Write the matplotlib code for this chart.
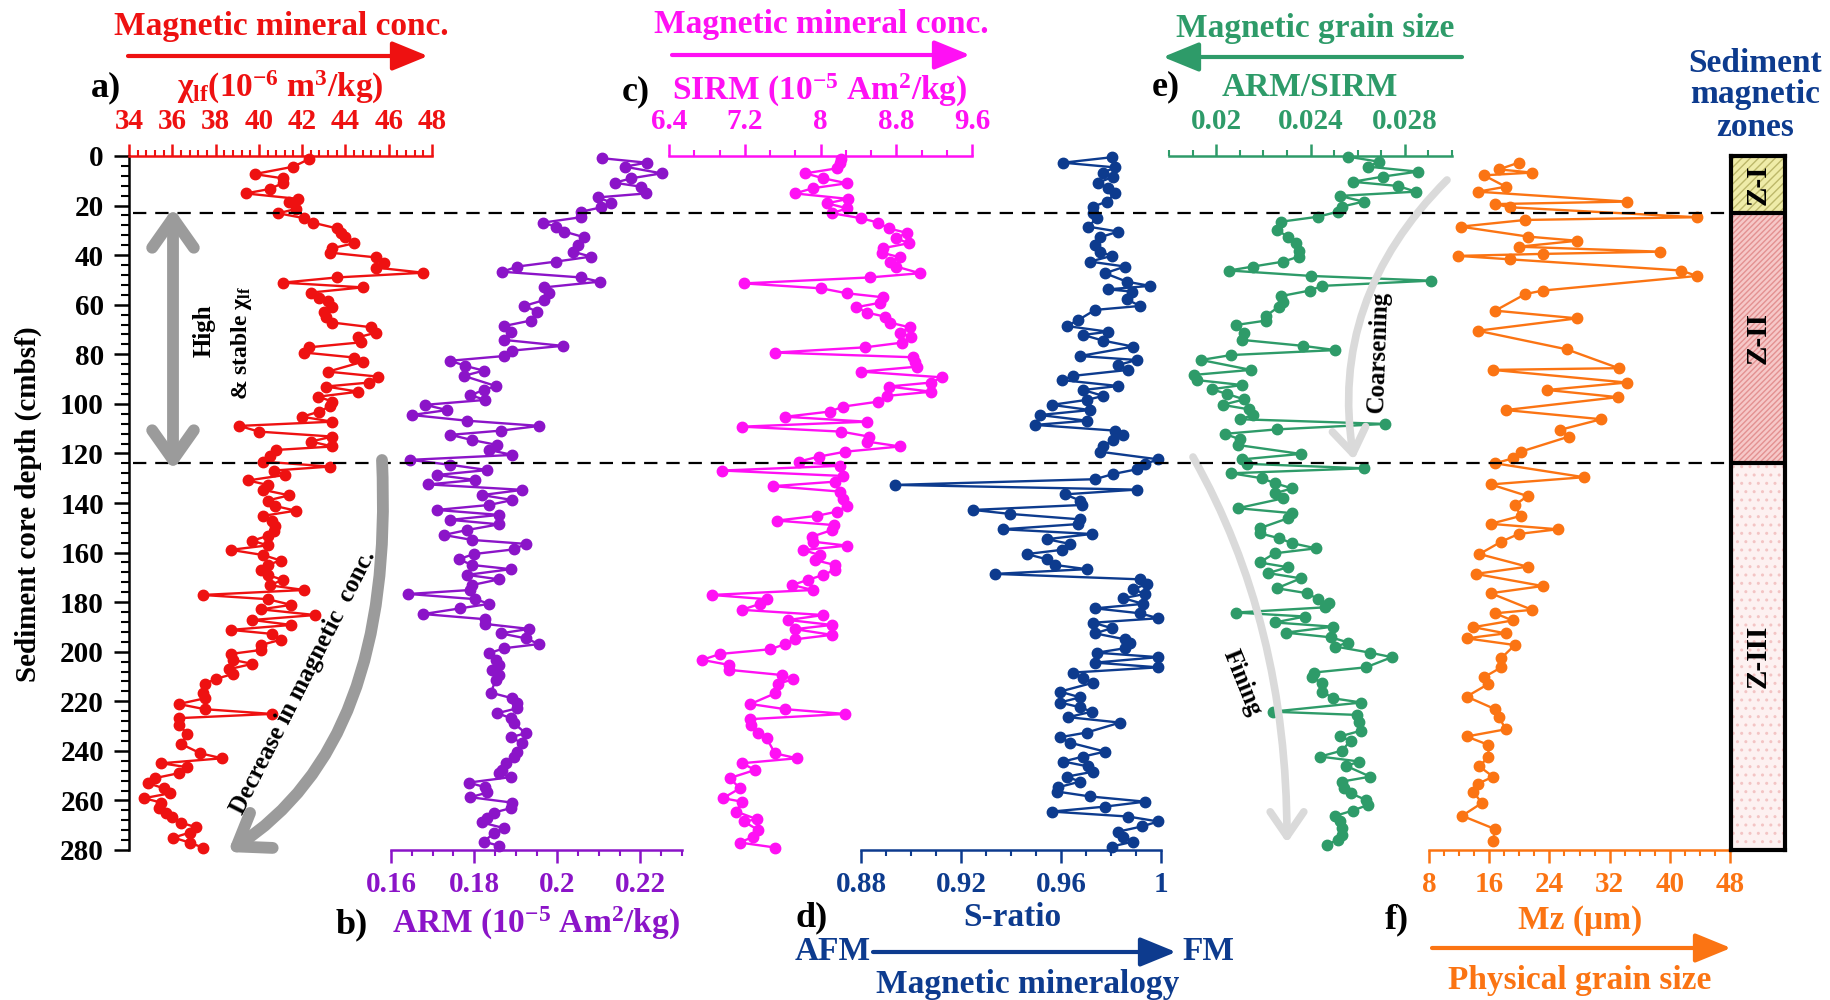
import matplotlib
matplotlib.use("Agg")
import matplotlib.pyplot as plt
from matplotlib.ticker import FixedLocator, FixedFormatter, MultipleLocator
from matplotlib.patches import FancyArrowPatch
from matplotlib.path import Path
import matplotlib.transforms as mtrans

# ---------------- data ----------------
chi_depth = [1.3, 4.3, 7.3, 9.0, 11.0, 13.3, 15.1, 17.3, 18.7, 21.4, 23.1, 25.1, 26.9, 29.2, 31.2, 32.8,
             35.2, 37.2, 39.0, 40.9, 43.3, 45.0, 47.1, 49.0, 51.1, 53.0, 55.1, 57.1, 58.4, 60.8, 62.8,
             64.8, 67.2, 69.1, 71.3, 73.1, 75.2, 77.2, 79.3, 81.3, 83.0, 87.0, 89.0, 91.4, 93.0, 95.1,
             97.1, 99.1, 100.9, 103.1, 105.2, 107.2, 108.9, 111.2, 113.2, 115.2, 117.2, 118.6, 121.0,
             123.3, 125.3, 126.9, 128.7, 130.9, 132.7, 134.7, 136.9, 139.0, 141.2, 143.1, 145.2, 147.1,
             149.3, 151.1, 153.3, 155.2, 157.1, 158.9, 161.0, 163.2, 165.0, 167.0, 169.0, 171.0, 173.2,
             175.1, 177.1, 178.8, 181.1, 182.9, 185.2, 187.2, 189.2, 191.2, 192.8, 195.2, 197.3, 199.3,
             200.9, 203.3, 204.9, 207.1, 209.0, 211.0, 213.0, 216.8, 218.8, 221.1, 223.2, 225.1, 226.8,
             229.5, 233.2, 237.2, 241.0, 243.0, 245.0, 246.6, 249.0, 251.0, 253.1, 255.1, 257.1, 259.1,
             260.9, 263.1, 265.2, 266.8, 269.0, 270.8, 273.0, 275.0, 277.0, 279.0]
chi_val = [42.3, 41.6, 39.8, 41.1, 41.1, 40.5, 39.4, 41.8, 41.4, 41.7, 40.9, 42.1, 42.5, 43.6, 43.8, 44.0,
           44.4, 43.4, 43.3, 45.4, 45.8, 45.4, 47.6, 43.6, 41.1, 44.8, 42.4, 42.8, 43.2, 43.4, 43.0,
           43.1, 43.4, 45.2, 45.4, 44.6, 44.7, 42.3, 42.1, 44.4, 44.8, 43.2, 45.5, 45.1, 43.1, 44.6,
           42.75, 43.4, 43.3, 42.8, 42.0, 43.4, 39.1, 40.0, 43.4, 42.4, 43.4, 40.8, 40.5,
           40.2, 43.3, 40.7, 41.2, 39.5, 40.4, 40.2, 41.4, 40.4, 40.75, 41.7, 40.2, 40.6,
           40.75, 40.7, 40.4, 39.7, 40.4, 38.7, 40.2, 41.0, 40.4, 40.1, 40.4, 41.1, 40.5,
           42.1, 37.4, 40.4, 41.5, 40.1, 42.6, 39.7, 41.5, 38.7, 40.6, 41.0, 40.1, 40.1,
           38.7, 38.8, 39.7, 38.6, 38.8, 38.0, 37.5, 37.4, 37.5, 36.3, 37.5, 40.6, 36.3,
           36.3, 36.7, 36.4, 37.3, 38.3, 35.5, 36.7, 36.3, 35.2, 34.9, 35.6, 35.9, 34.7,
           35.5, 35.4, 35.7, 36.0, 36.4, 37.1, 36.8, 36.05, 36.8, 37.4]

arm_depth = [0.9, 2.7, 4.3, 7.0, 9.0, 10.8, 12.4, 15.1, 16.7, 18.8, 20.7, 22.5, 24.7, 26.9, 28.5, 30.5,
             32.8, 35.9, 38.6, 40.6, 42.6, 44.6, 46.7, 49.0, 50.7, 53.0, 55.4, 58.1, 60.5, 62.8, 66.4,
             68.6, 70.9, 74.2, 76.6, 78.5, 80.7, 82.6, 84.7, 86.6, 88.7, 92.8, 94.4, 96.5, 98.4, 100.4,
             102.5, 104.5, 106.8, 108.9, 110.8, 112.5, 114.6, 116.6, 118.6, 120.6, 122.6, 124.6, 126.7,
             128.7, 130.7, 132.5, 134.7, 136.8, 138.8, 140.8, 142.8, 144.8, 146.8, 148.6, 150.9, 152.9,
             154.9, 156.5, 158.7, 160.6, 162.7, 165.0, 166.7, 169.0, 170.8, 173.1, 175.1, 176.7, 178.8,
             180.7, 182.5, 184.8, 186.9, 188.8, 190.8, 192.6, 194.6, 196.9, 198.6, 200.6, 203.3, 205.3,
             207.3, 209.4, 211.4, 216.5, 218.8, 220.8, 222.8, 224.8, 226.8, 228.9, 232.9, 234.5, 236.9,
             240.3, 242.3, 244.7, 247.7, 249.0, 250.6, 252.8, 254.7, 256.8, 258.7, 260.9, 263.1, 264.9,
             267.2, 268.9, 271.2, 273.2, 276.6, 278.3]
arm_val = [0.2108, 0.2215, 0.2162, 0.2251, 0.2178, 0.2138, 0.2202, 0.2214, 0.2098, 0.2130, 0.2106, 0.2057,
           0.2057, 0.1965, 0.1997, 0.2017, 0.2065, 0.2049, 0.2037, 0.2081, 0.1997, 0.1904, 0.1868, 0.2057,
           0.2102, 0.1969, 0.1981, 0.1969, 0.1920, 0.1952, 0.1936, 0.1872, 0.1888, 0.1872, 0.2013, 0.1892,
           0.1872, 0.1743, 0.1779, 0.1823, 0.1775, 0.1852, 0.1823, 0.1791, 0.1827, 0.1682, 0.1735, 0.1650,
           0.1783, 0.1957, 0.1864, 0.1743, 0.1795, 0.1856, 0.1836, 0.1892, 0.1646, 0.1743, 0.1832, 0.1710,
           0.1803, 0.1690, 0.1916, 0.1819, 0.1892, 0.1836, 0.1710, 0.1860, 0.1743, 0.1860, 0.1783, 0.1727,
           0.1795, 0.1924, 0.1896, 0.1799, 0.1763, 0.1795, 0.1888, 0.1783, 0.1860, 0.1795, 0.1791, 0.1642,
           0.1803, 0.1836, 0.1767, 0.1678, 0.1827, 0.1827, 0.1932, 0.1864, 0.1924, 0.1956, 0.1872, 0.1836,
           0.1852, 0.1860, 0.1844, 0.1860, 0.1852, 0.1840, 0.1892, 0.1904, 0.1904, 0.1856, 0.1888, 0.1896,
           0.1924, 0.1888, 0.1916, 0.1904, 0.1896, 0.1876, 0.1868, 0.1860, 0.1888, 0.1787, 0.1827, 0.1832,
           0.1791, 0.1892, 0.1888, 0.1848, 0.1832, 0.1819, 0.1872, 0.1848, 0.1823, 0.1860]

sirm_depth = [1.3, 2.7, 5.0, 7.0, 9.0, 11.0, 13.0, 15.1, 17.3, 19.1, 21.1, 23.1, 25.1, 26.9, 29.2, 31.0,
              33.2, 35.2, 37.2, 39.0, 40.9, 42.6, 44.6, 47.3, 49.0, 51.4, 53.4, 55.4, 57.0, 59.2, 61.0,
              63.2, 64.8, 67.2, 69.1, 71.3, 73.1, 75.3, 77.2, 79.3, 81.2, 83.0, 85.0, 87.0, 89.3, 91.4,
              93.0, 95.1, 96.8, 99.1, 101.1, 103.1, 105.2, 107.2, 109.2, 111.2, 113.2, 115.2, 117.2,
              119.3, 121.3, 123.3, 125.0, 126.9, 129.1, 131.4, 133.2, 135.4, 138.5, 141.2, 143.5, 145.2,
              147.1, 148.9, 150.9, 153.6, 155.6, 157.2, 159.0, 161.0, 163.0, 165.0, 167.0, 169.0, 171.0,
              173.1, 175.1, 177.1, 178.8, 180.7, 183.1, 185.2, 187.2, 189.2, 190.9, 193.2, 195.0, 196.9,
              199.0, 200.9, 203.3, 205.3, 207.3, 209.4, 211.1, 213.0, 216.8, 221.1, 223.2, 225.1, 227.2,
              229.5, 232.9, 234.9, 241.0, 243.0, 245.0, 247.7, 251.0, 255.1, 259.1, 260.5, 264.5, 267.6,
              268.5, 271.9, 274.6, 277.0, 279.0]
sirm_val = [8.22, 8.21, 8.17, 7.84, 8.03, 8.28, 7.92, 7.73, 8.29, 8.07, 8.28, 8.12, 8.43, 8.61, 8.72, 8.91,
            8.80, 8.93, 8.66, 8.65, 8.84, 8.73, 8.80, 9.05, 8.52, 7.19, 8.01, 8.28, 8.66, 8.63, 8.38,
            8.49, 8.68, 8.73, 8.94, 8.84, 8.96, 8.86, 8.47, 7.52, 8.98, 9.00, 9.02, 8.43, 9.28, 9.17,
            8.72, 9.17, 8.70, 8.61, 8.24, 8.10, 7.63, 8.49, 7.17, 8.22, 8.51, 8.49, 8.84,
            8.26, 7.98, 7.77, 8.21, 6.96, 8.24, 8.15, 7.50, 8.21, 8.24, 8.28, 8.17, 7.96,
            7.54, 8.14, 8.12, 7.91, 7.92, 8.28, 7.82, 7.99, 7.94, 8.15, 8.15, 8.03, 7.87,
            7.70, 7.92, 6.85, 7.43, 7.36, 7.17, 8.03, 7.66, 8.12, 7.73, 8.12, 7.73, 7.63,
            7.47, 6.94, 6.75, 7.03, 7.03, 7.59, 7.71, 7.55, 7.52, 7.26, 7.63, 8.26, 7.26,
            7.27, 7.34, 7.43, 7.52, 7.75, 7.17, 7.31, 7.04, 7.15, 6.97, 7.17, 7.11, 7.33,
            7.19, 7.34, 7.29, 7.15, 7.52]

sr_depth = [0.5, 2.7, 4.6, 6.7, 8.3, 10.8, 13.0, 15.1, 18.4, 20.4, 23.1, 25.1, 28.5, 30.5, 32.8, 35.9,
            38.6, 40.3, 42.6, 44.6, 47.3, 50.7, 52.4, 53.8, 54.7, 57.8, 60.5, 62.1, 66.2, 68.6, 70.9,
            72.2, 74.5, 76.9, 80.7, 82.3, 84.3, 86.3, 88.7, 90.4, 92.8, 94.4, 96.8, 98.4, 100.4, 102.5,
            104.5, 106.8, 108.5, 110.8, 112.5, 114.6, 117.0, 119.3, 122.4, 124.2, 126.4, 128.3, 130.4,
            132.7, 134.6, 136.5, 139.0, 140.8, 142.8, 144.4, 146.6, 148.5, 150.6, 152.5, 154.6, 156.5,
            158.9, 160.6, 162.7, 165.0, 166.7, 168.6, 170.8, 172.7, 174.8, 176.7, 178.4, 180.7, 182.5,
            184.5, 186.5, 188.3, 190.5, 192.6, 195.0, 196.6, 198.6, 200.4, 202.2, 204.4, 206.3, 208.4,
            210.7, 212.5, 216.1, 218.4, 220.5, 222.4, 224.2, 226.4, 228.6, 232.6, 234.5, 236.7, 240.3,
            242.3, 244.3, 246.3, 248.4, 250.4, 252.4, 254.7, 256.4, 258.4, 260.5, 262.5, 264.5, 266.5,
            268.5, 270.5, 272.6, 274.8, 276.6, 278.6]
sr_val = [0.9803, 0.9609, 0.9816, 0.9769, 0.9809, 0.9749, 0.9789, 0.9816, 0.9783, 0.9729, 0.9729, 0.9743,
          0.9709, 0.9829, 0.9756, 0.9736, 0.9756, 0.9803, 0.9716, 0.9856, 0.9776, 0.9863, 0.9956, 0.9789,
          0.9883, 0.9863, 0.9916, 0.9736, 0.9669, 0.9623, 0.9789, 0.9689, 0.9769, 0.9889, 0.9676, 0.9903,
          0.9829, 0.9869, 0.9649, 0.9603, 0.9829, 0.9689, 0.9769, 0.9703, 0.9563, 0.9716, 0.9516, 0.9703,
          0.9496, 0.9816, 0.9849, 0.9809, 0.9769, 0.9756, 0.9989, 0.9936, 0.9903, 0.9809, 0.9736,
          0.8936, 0.9903, 0.9616, 0.9676, 0.9683, 0.9249, 0.9396, 0.9676, 0.9669, 0.9369, 0.9723, 0.9543,
          0.9636, 0.9603, 0.9463, 0.9543, 0.9576, 0.9703, 0.9336, 0.9916, 0.9943, 0.9889, 0.9936, 0.9849,
          0.9929, 0.9736, 0.9916, 0.9989, 0.9729, 0.9803, 0.9736, 0.9856, 0.9876, 0.9856, 0.9743, 0.9989,
          0.9736, 0.9989, 0.9649, 0.9689, 0.9729, 0.9596, 0.9676, 0.9596, 0.9676, 0.9723, 0.9629, 0.9836,
          0.9703, 0.9596, 0.9636, 0.9776, 0.9689, 0.9609, 0.9709, 0.9729, 0.9623, 0.9676, 0.9589, 0.9583,
          0.9716, 0.9936, 0.9776, 0.9563, 0.9869, 0.9989, 0.9923, 0.9829, 0.9849, 0.9889, 0.9803]

ratio_depth = [0.3, 2.3, 4.3, 6.3, 8.3, 10.4, 12.1, 14.4, 16.1, 18.4, 20.4, 22.5, 24.5, 26.5, 29.8, 32.5,
               35.0, 38.2, 40.6, 42.6, 44.6, 46.2, 48.4, 50.3, 52.4, 54.3, 56.5, 58.8, 60.8, 64.5, 66.4,
               68.2, 71.5, 74.2, 76.6, 78.3, 80.3, 82.3, 86.3, 88.3, 90.4, 92.4, 94.1, 96.0, 98.2, 100.4,
               102.2, 104.5, 106.2, 108.1, 110.3, 112.1, 114.3, 116.6, 120.2, 122.4, 124.2, 126.0, 128.0,
               130.0, 132.0, 134.1, 136.1, 138.1, 142.1, 144.1, 146.2, 150.2, 152.2, 154.2, 156.2, 158.3,
               160.3, 164.0, 165.9, 168.3, 170.4, 174.4, 176.4, 178.8, 180.5, 182.1, 184.2, 185.8, 188.2,
               189.9, 192.3, 194.2, 196.3, 197.9, 200.4, 202.2, 206.3, 208.4, 210.3, 212.5, 216.1, 218.8,
               220.5, 224.2, 225.5, 228.2, 231.8, 234.2, 235.9, 239.9, 242.3, 244.3, 246.1, 250.4, 252.4,
               255.1, 257.1, 259.8, 261.8, 264.1, 266.2, 268.5, 271.2, 273.9, 275.9, 277.9]
ratio_val = [0.02561, 0.02690, 0.02644, 0.02855, 0.02708, 0.02579, 0.02772, 0.02846, 0.02524, 0.02625,
             0.02534, 0.02515, 0.02432, 0.02276, 0.02257, 0.02303, 0.02340, 0.02350, 0.02350, 0.02285,
             0.02156, 0.02055, 0.02404, 0.02910, 0.02450, 0.02396, 0.02276, 0.02285, 0.02266, 0.02211,
             0.02211, 0.02083, 0.02119, 0.02110, 0.02368, 0.02506, 0.02064, 0.01936, 0.02147, 0.01908,
             0.01917, 0.02110, 0.01981, 0.02046, 0.02119, 0.02027, 0.02138, 0.02156, 0.02101, 0.02717,
             0.02257, 0.02036, 0.02101, 0.02092, 0.02359, 0.02110, 0.02129, 0.02625, 0.02064, 0.02193,
             0.02248, 0.02322, 0.02248, 0.02285, 0.02092, 0.02322, 0.02303, 0.02184, 0.02184, 0.02266,
             0.02322, 0.02423, 0.02248, 0.02184, 0.02303, 0.02221, 0.02359, 0.02257, 0.02386, 0.02432,
             0.02478, 0.02460, 0.02083, 0.02377, 0.02248, 0.02496, 0.02294, 0.02487, 0.02561, 0.02506,
             0.02653, 0.02745, 0.02635, 0.02414, 0.02405, 0.02450, 0.02450, 0.02496, 0.02616, 0.02239,
             0.02597, 0.02607, 0.02616, 0.02524, 0.02570, 0.02533, 0.02441, 0.02607, 0.02552, 0.02653,
             0.02533, 0.02542, 0.02570, 0.02635, 0.02644, 0.02579, 0.02506, 0.02524, 0.02533, 0.02533,
             0.02515, 0.02469]

mz_depth = [2.7, 5.4, 6.7, 7.8, 12.4, 14.4, 18.4, 19.4, 20.7, 24.7, 25.8, 28.5, 32.5, 34.2, 36.6, 38.6,
            39.5, 40.3, 41.7, 46.2, 48.4, 54.3, 55.7, 62.4, 65.5, 70.5, 78.0, 85.6, 86.3, 91.4, 94.4,
            97.3, 102.5, 106.2, 110.5, 113.2, 119.3, 122.0, 124.0, 129.6, 132.5, 137.2, 140.8, 145.2,
            148.4, 150.6, 152.5, 155.6, 160.6, 165.7, 168.6, 173.5, 176.4, 183.1, 184.5, 187.4, 190.1,
            192.6, 194.6, 197.3, 202.6, 206.3, 210.3, 213.0, 218.1, 223.2, 226.4, 231.3, 234.2, 237.6,
            242.3, 246.3, 250.4, 253.3, 256.4, 261.1, 266.2, 271.6, 276.2]
mz_val = [19.9, 17.3, 21.7, 15.3, 18.2, 14.5, 34.3, 16.8, 18.8, 43.6, 20.8, 12.2, 21.1, 27.7, 19.9, 38.7,
          23.1, 11.9, 18.8, 41.5, 43.6, 23.1, 20.8, 16.8, 27.7, 14.5, 26.3, 33.2, 16.5, 34.3, 23.7,
          33.1, 18.2, 30.9, 25.4, 26.6, 20.2, 19.1, 16.8, 28.6, 16.2, 21.1, 19.4, 20.2,
          16.2, 25.1, 19.9, 17.6, 14.7, 21.1, 14.2, 23.1, 16.2, 21.7, 16.8, 19.1, 13.9,
          18.2, 13.0, 19.4, 17.6, 17.6, 15.3, 15.9, 13.0, 16.8, 17.3, 18.2, 13.0, 15.9,
          15.9, 14.7, 16.5, 14.5, 13.9, 15.0, 12.4, 16.8, 16.5]

zone_bounds = [0, 23, 124, 280]
zone_names = ["Z-I", "Z-II", "Z-III"]

chi_ticks = [34, 36, 38, 40, 42, 44, 46, 48]
arm_ticks = [0.16, 0.18, 0.2, 0.22]
arm_labels = ["0.16", "0.18", "0.2", "0.22"]
sirm_ticks = [6.4, 7.2, 8.0, 8.8, 9.6]
sirm_labels = ["6.4", "7.2", "8", "8.8", "9.6"]
sr_ticks = [0.88, 0.92, 0.96, 1.0]
sr_labels = ["0.88", "0.92", "0.96", "1"]
ratio_ticks = [0.02, 0.024, 0.028]
ratio_labels = ["0.02", "0.024", "0.028"]
mz_ticks = [8, 16, 24, 32, 40, 48]
depth_ticks = [0, 20, 40, 60, 80, 100, 120, 140, 160, 180, 200, 220, 240, 260, 280]

# ---------------- style ----------------
RED = "#ee1111"
PURPLE = "#8b14c8"
MAGENTA = "#ff10f4"
NAVY = "#0d3b8e"
GREEN = "#2e9b69"
ORANGE = "#fb7413"
GRAY = "#9b9b9b"
LGRAY = "#dadada"

plt.rcParams["font.family"] = ["Liberation Serif", "DejaVu Serif"]
plt.rcParams["font.weight"] = "bold"
plt.rcParams["mathtext.fontset"] = "custom"
plt.rcParams["mathtext.rm"] = "Liberation Serif:bold"
plt.rcParams["mathtext.bf"] = "Liberation Serif:bold"
plt.rcParams["mathtext.it"] = "Liberation Serif:italic:bold"
plt.rcParams["hatch.linewidth"] = 1.0

W, H = 1830, 1000
TOP, BOT = 156, 850
fig = plt.figure(figsize=(18.3, 10), dpi=100)


def rect(x0, x1):
    return [x0 / W, 1 - BOT / H, (x1 - x0) / W, (BOT - TOP) / H]


TICK_FS = 21
HEAD_FS = 24


def panel(x0, x1, xlim, color, side, ticks, labels, minor):
    ax = fig.add_axes(rect(x0, x1))
    ax.set_facecolor("none")
    ax.set_xlim(*xlim)
    ax.set_ylim(280, 0)
    for s in ax.spines.values():
        s.set_visible(False)
    ax.spines[side].set_visible(True)
    ax.spines[side].set_color(color)
    ax.spines[side].set_linewidth(1.8)
    ax.xaxis.set_ticks_position(side)
    ax.xaxis.set_major_locator(FixedLocator(ticks))
    ax.xaxis.set_major_formatter(FixedFormatter(labels))
    ax.xaxis.set_minor_locator(MultipleLocator(minor))
    ax.tick_params(axis="x", which="major", length=9, width=1.8, color=color,
                   labelcolor=color, labelsize=TICK_FS, pad=6, direction="out")
    ax.tick_params(axis="x", which="minor", length=4.5, width=1.5, color=color, direction="out")
    ax.set_yticks([])
    return ax


def series(ax, vals, depths, color):
    ax.plot(vals, depths, "-o", color=color, lw=1.7, ms=7.5, clip_on=False, zorder=3)


ax_a = panel(129, 432, (34, 48), RED, "top", chi_ticks, [str(t) for t in chi_ticks], 0.4)
ax_a.spines["left"].set_visible(True)
ax_a.spines["left"].set_color("black")
ax_a.spines["left"].set_linewidth(1.8)
ax_a.yaxis.set_major_locator(FixedLocator(depth_ticks))
ax_a.yaxis.set_major_formatter(FixedFormatter([str(t) for t in depth_ticks]))
ax_a.yaxis.set_minor_locator(MultipleLocator(4))
ax_a.tick_params(axis="y", which="major", length=11, width=1.8, labelsize=TICK_FS, pad=7, left=True)
ax_a.tick_params(axis="y", which="minor", length=6, width=1.5, left=True)
series(ax_a, chi_val, chi_depth, RED)

ax_b = panel(391, 682, (0.16, 0.23), PURPLE, "bottom", arm_ticks, arm_labels, 0.005)
series(ax_b, arm_val, arm_depth, PURPLE)

ax_c = panel(669, 972, (6.4, 9.6), MAGENTA, "top", sirm_ticks, sirm_labels, 0.8 / 3)
series(ax_c, sirm_val, sirm_depth, MAGENTA)

ax_d = panel(861, 1161, (0.88, 1.0), NAVY, "bottom", sr_ticks, sr_labels, 0.01)
series(ax_d, sr_val, sr_depth, NAVY)

ax_e = panel(1169, 1452, (0.018, 0.030), GREEN, "top", ratio_ticks, ratio_labels, 0.001)
series(ax_e, ratio_val, ratio_depth, GREEN)

ax_f = panel(1429, 1730, (8, 48), ORANGE, "bottom", mz_ticks, [str(t) for t in mz_ticks], 2)
series(ax_f, mz_val, mz_depth, ORANGE)

# zone column
ax_z = fig.add_axes(rect(1731, 1785))
ax_z.set_xlim(0, 1)
ax_z.set_ylim(280, 0)
ax_z.set_xticks([])
ax_z.set_yticks([])
zone_face = ["#efeca8", "#f6c8c8", "#fdf1f1"]
zone_hatch_col = ["#bdb86a", "#e39191", "#f3c4c4"]
zone_hatch = ["////", "//////", ".."]
for i in range(3):
    top, bottom = zone_bounds[i], zone_bounds[i + 1]
    ax_z.bar(0.5, bottom - top, bottom=top, width=1.0, color=zone_face[i],
             edgecolor=zone_hatch_col[i], hatch=zone_hatch[i], linewidth=0)
    ax_z.text(0.5, (top + bottom) / 2, zone_names[i], rotation=90, ha="center", va="center",
              fontsize=21, fontweight="bold", color="black")
for b in zone_bounds[1:-1]:
    ax_z.axhline(b, color="black", lw=3)
for s in ax_z.spines.values():
    s.set_linewidth(3)
    s.set_color("black")

# overlay for headings, arrows and zone boundary lines
ov = fig.add_axes([0, 0, 1, 1])
ov.set_xlim(0, W)
ov.set_ylim(H, 0)
ov.axis("off")
ov.set_zorder(10)
blend = mtrans.blended_transform_factory(ov.transData, ax_a.transData)
for b in zone_bounds[1:-1]:
    ov.plot([133, 1731], [b, b], transform=blend, color="black", lw=1.6,
            dashes=(6, 4), clip_on=False, zorder=1)


def txt(x, y, s, color="black", fs=HEAD_FS, **kw):
    ov.text(x, y, s, color=color, fontsize=fs, ha="center", va="center", fontweight="bold", **kw)


def arrow(x0, y0, x1, y1, color, lw=3, hl=1.1, hw=0.45, ms=20):
    ov.add_patch(FancyArrowPatch((x0, y0), (x1, y1),
                                 arrowstyle=f"-|>,head_length={hl},head_width={hw}",
                                 mutation_scale=ms, lw=lw, color=color, shrinkA=0, shrinkB=0))


# top headings
txt(281, 27, "Magnetic mineral conc.", RED)
arrow(128, 56, 428, 56, RED)
txt(106, 88, "a)", "black", 26)
txt(280, 87, "χ$_{\\mathbf{lf}}$(10$^{\\mathbf{-6}}$ m$^{\\mathbf{3}}$/kg)", RED)

txt(821, 25, "Magnetic mineral conc.", MAGENTA)
arrow(672, 55, 970, 55, MAGENTA)
txt(636, 92, "c)", "black", 26)
txt(820, 90, "SIRM (10$^{\\mathbf{-5}}$ Am$^{\\mathbf{2}}$/kg)", MAGENTA)

txt(1315, 29, "Magnetic grain size", GREEN)
arrow(1462, 57, 1163, 57, GREEN)
txt(1166, 87, "e)", "black", 26)
txt(1310, 87, "ARM/SIRM", GREEN)

txt(1755, 63, "Sediment", NAVY)
txt(1755, 95, "magnetic", NAVY)
txt(1755, 127, "zones", NAVY)

# bottom headings
txt(352, 925, "b)", "black", 26)
txt(536, 923, "ARM (10$^{\\mathbf{-5}}$ Am$^{\\mathbf{2}}$/kg)", PURPLE)

txt(812, 918, "d)", "black", 26)
txt(1012, 918, "S-ratio", NAVY)
txt(833, 952, "AFM", NAVY)
arrow(873, 952, 1176, 952, NAVY)
txt(1208, 952, "FM", NAVY)
txt(1028, 985, "Magnetic mineralogy", NAVY)

txt(1397, 920, "f)", "black", 26)
txt(1580, 920, "Mz (μm)", ORANGE)
arrow(1432, 948, 1731, 948, ORANGE)
txt(1580, 980, "Physical grain size", ORANGE)

txt(28, 504, "Sediment core depth (cmbsf)", "black", 21, rotation=90)

# annotations in panel a
ov.add_patch(FancyArrowPatch((173, 470), (173, 208),
                             arrowstyle="<->,head_length=0.85,head_width=0.6",
                             mutation_scale=25, lw=8.5, color=GRAY, shrinkA=0, shrinkB=0,
                             capstyle="round", joinstyle="round"))
txt(204, 331, "High", "black", 18, rotation=90)
txt(241, 343, "& stable χ$_{\\mathbf{lf}}$", "black", 17, rotation=90)

curve = Path([(382, 460), (395, 744), (228, 852)], [Path.MOVETO, Path.CURVE3, Path.CURVE3])
ov.add_patch(FancyArrowPatch(path=curve, arrowstyle="->,head_length=0.85,head_width=0.6",
                             mutation_scale=25, lw=8.5, color=GRAY, capstyle="round",
                             joinstyle="round"))
txt(303, 682, "Decrease in magnetic  conc.", "black", 18, rotation=63)

# annotations in panel e
coarse = Path([(1447, 180), (1328, 299), (1354, 460)], [Path.MOVETO, Path.CURVE3, Path.CURVE3])
ov.add_patch(FancyArrowPatch(path=coarse, arrowstyle="->,head_length=0.8,head_width=0.55",
                             mutation_scale=22, lw=5.5, color=LGRAY, capstyle="round",
                             joinstyle="round", zorder=0))
txt(1378, 352, "Coarsening", "black", 18, rotation=88)

fine = Path([(1193, 457), (1287, 623), (1287, 843)], [Path.MOVETO, Path.CURVE3, Path.CURVE3])
ov.add_patch(FancyArrowPatch(path=fine, arrowstyle="->,head_length=0.8,head_width=0.55",
                             mutation_scale=22, lw=5.5, color=LGRAY, capstyle="round",
                             joinstyle="round", zorder=0))
txt(1242, 683, "Fining", "black", 18, rotation=-68)

fig.savefig("out.png", dpi=100)
